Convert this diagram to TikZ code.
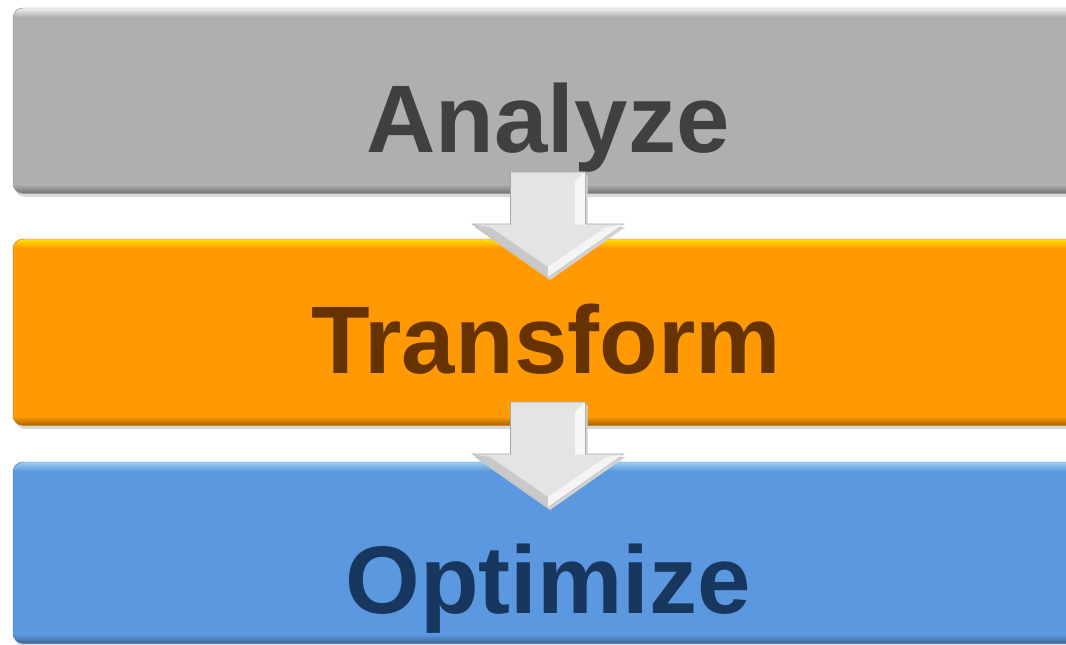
\documentclass[tikz,border=0pt]{standalone}
\usepackage{fontspec}
\setmainfont{Liberation Sans}
\usetikzlibrary{positioning}
\definecolor{anaFill}{HTML}{AFAFAF}
\definecolor{anaText}{HTML}{404040}
\definecolor{trfFill}{HTML}{FF9A05}
\definecolor{trfText}{HTML}{663300}
\definecolor{optFill}{HTML}{5C98E0}
\definecolor{optText}{HTML}{17375E}
\definecolor{arrFill}{HTML}{E4E4E4}
\tikzset{
  stagebox/.style={rectangle, rounded corners=10pt, anchor=north west,
    minimum width=1090pt, inner sep=0pt},
  stagetext/.style={anchor=base, inner sep=0pt, font=\bfseries\fontsize{96}{100}\selectfont},
  blockarrow/.style={fill=arrFill, draw=black!35, line width=0.6pt, line join=miter},
}
% block arrow hanging down from a named point
\newcommand{\blockdown}[1]{%
  \fill[black!18] ([shift={(2,3)}]#1) ++(-37.5,0) -- ++(0,52) -- ++(-38,0)
    -- ++(75.5,53) -- ++(75.5,-53) -- ++(-38,0) -- ++(0,-52) -- cycle;
  \draw[blockarrow] (#1) ++(-37.5,0) -- ++(0,52) -- ++(-38,0)
    -- ++(75.5,53) -- ++(75.5,-53) -- ++(-38,0) -- ++(0,-52) -- cycle;
  \fill[white!70!arrFill] (#1) ++(37,0.5) -- ++(-10,9) -- ++(0,43) -- ++(10,0) -- cycle;
  \fill[arrFill!88!black] (#1) ++(-75,52.5) -- ++(75,52.5) -- ++(0,-10) -- ++(-58,-40) -- cycle;
  \fill[white!60!arrFill] (#1) ++(75,52.5) -- ++(-75,52.5) -- ++(0,-10) -- ++(58,-40) -- cycle;
}
% light top edge and dark bottom edge of a stage
\newcommand{\stagebevel}[3]{%
  \begin{scope}
    \clip[rounded corners=10pt] (#1.north west) rectangle (#1.south east);
    \shade[top color=#2, bottom color=#1Fill] (#1.north west) rectangle ([yshift=-9pt]#1.north east);
    \shade[top color=#1Fill, bottom color=#3] ([yshift=9pt]#1.south west) rectangle (#1.south east);
  \end{scope}
}
\begin{document}
\begin{tikzpicture}[x=1pt, y=-1pt]
  \useasboundingbox[fill=white] (0,0) rectangle (1066,645);
  % shadows
  \fill[black!15, rounded corners=10pt] (15,12) rectangle (1090,197);
  \fill[black!15, rounded corners=10pt] (15,243) rectangle (1090,429);
  \fill[black!15, rounded corners=10pt] (15,466) rectangle (1090,647);
  % stages
  \node[stagebox, fill=anaFill, minimum height=185pt] (ana) at (13,8) {};
  \node[stagebox, fill=trfFill, minimum height=186pt] (trf) at (13,239) {};
  \node[stagebox, fill=optFill, minimum height=181pt] (opt) at (13,462) {};
  \stagebevel{ana}{white!80!anaFill}{anaFill!65!black}
  \stagebevel{trf}{yellow!70!trfFill}{trfFill!65!black}
  \stagebevel{opt}{cyan!20!white!55!optFill}{optFill!65!black}
  \draw[black!45, rounded corners=10pt] (ana.north west) rectangle (ana.south east);
  \draw[trfFill!75!black, rounded corners=10pt] (trf.north west) rectangle (trf.south east);
  \draw[optFill!75!black, rounded corners=10pt] (opt.north west) rectangle (opt.south east);
  \node[stagetext, text=anaText] (anaLbl) at (548,152) {Analyze};
  \node[stagetext, text=trfText] (trfLbl) at (546,373) {Transform};
  \node[stagetext, text=optText] (optLbl) at (548,613) {Optimize};
  % arrows between stages
  \coordinate (a2t) at (548,172);
  \coordinate (t2o) at (548,402);
  \blockdown{a2t}
  \blockdown{t2o}
\end{tikzpicture}
\end{document}
